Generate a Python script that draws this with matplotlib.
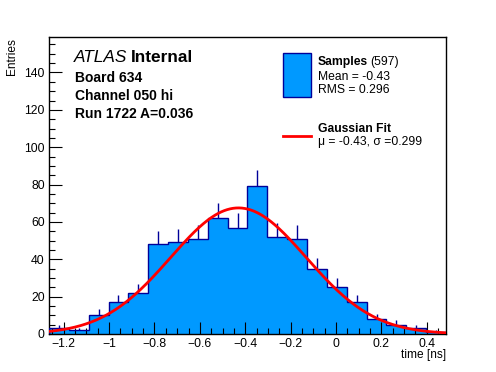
import numpy as np
import matplotlib
matplotlib.use("Agg")
import matplotlib.pyplot as plt
from matplotlib.patches import Rectangle
from matplotlib.lines import Line2D
from matplotlib.ticker import MultipleLocator, FuncFormatter

plt.rcParams['font.family'] = ['Liberation Sans', 'DejaVu Sans']

# ---- data ----
x_low = -1.265
bin_width = 0.0875
counts = [3, 2, 10, 17, 22, 48, 49, 51, 62, 57, 79, 52, 51, 35, 25, 17, 8, 5, 3, 1]
fit_const = 67.5
fit_mean = -0.43
fit_sigma = 0.299
n_entries = 597
mean_txt = "-0.43"
rms_txt = "0.296"
header_lines = ["Board 634", "Channel 050 hi", "Run 1722 A=0.036"]

W, H = 496, 372
fig = plt.figure(figsize=(W / 100, H / 100), dpi=100)
L, R, T, B = 49, 446, 37, 334
ax = fig.add_axes([L / W, (H - B) / H, (R - L) / W, (B - T) / H])

edges = x_low + bin_width * np.arange(len(counts) + 1)
counts = np.array(counts, dtype=float)
centers = 0.5 * (edges[:-1] + edges[1:])

fill_c = '#0099ff'
edge_c = '#000099'

ax.stairs(counts, edges, fill=True, color=fill_c, zorder=1)
ax.vlines(centers, counts, counts + np.sqrt(counts), color=edge_c, lw=1.0, zorder=2)
ax.stairs(counts, edges, fill=False, color=edge_c, lw=1.0, zorder=3)

xs = np.linspace(edges[0], edges[-1], 400)
ys = fit_const * np.exp(-0.5 * ((xs - fit_mean) / fit_sigma) ** 2)
ax.plot(xs, ys, color='#ff0000', lw=2.0, zorder=4)

ax.set_xlim(edges[0], edges[-1])
ax.set_ylim(0, 159)

ax.xaxis.set_major_locator(MultipleLocator(0.2))
ax.xaxis.set_minor_locator(MultipleLocator(0.05))
ax.yaxis.set_major_locator(MultipleLocator(20))
ax.yaxis.set_minor_locator(MultipleLocator(5))

def fmt_x(v, p):
    if abs(v) < 1e-9:
        return "0"
    s = ("%.1f" % v).rstrip('0').rstrip('.')
    return s.replace('-', '\u2212')

ax.xaxis.set_major_formatter(FuncFormatter(fmt_x))
ax.yaxis.set_major_formatter(FuncFormatter(lambda v, p: "%d" % v))

ax.tick_params(axis='both', which='both', direction='in', top=False, right=False,
               labelsize=8.8, colors='black')
ax.tick_params(axis='both', which='major', length=9, width=0.8)
ax.tick_params(axis='both', which='minor', length=4.5, width=0.8)
ax.tick_params(axis='x', pad=3)
ax.tick_params(axis='y', pad=3)
for s in ax.spines.values():
    s.set_linewidth(1.0)

def ftxt(x, y, s, **kw):
    fig.text(x / W, 1 - y / H, s, **kw)

ftxt(446, 355, "time [ns]", ha='right', va='center', fontsize=8.6)
ftxt(12, 38, "Entries", ha='center', va='top', rotation=90, fontsize=8.6)

# ATLAS Internal
t1 = fig.text(74 / W, 1 - 58 / H, "ATLAS", fontsize=12.4, style='italic', va='center', ha='left')
fig.canvas.draw()
bb = t1.get_window_extent()
fig.text((bb.x1 + 4) / W, 1 - 58 / H, "Internal", fontsize=12.4, weight='bold', va='center', ha='left')

for i, line in enumerate(header_lines):
    ftxt(75, 77.5 + 18.2 * i, line, fontsize=10, weight='bold', va='center', ha='left')

# legend
fig.patches.append(Rectangle((283 / W, 1 - 97 / H), 28 / W, 44 / H, transform=fig.transFigure,
                             facecolor=fill_c, edgecolor=edge_c, lw=1.0))
t2 = fig.text(318 / W, 1 - 62 / H, "Samples", fontsize=8.7, weight='bold', va='center', ha='left')
fig.canvas.draw()
bb = t2.get_window_extent()
fig.text((bb.x1 + 2) / W, 1 - 62 / H, "(%d)" % n_entries, fontsize=8.7, va='center', ha='left')
ftxt(318, 77.5, "Mean = " + mean_txt, fontsize=8.7, va='center', ha='left')
ftxt(318, 90, "RMS = " + rms_txt, fontsize=8.7, va='center', ha='left')

fig.lines.append(Line2D([283 / W, 311 / W], [1 - 136 / H, 1 - 136 / H], transform=fig.transFigure,
                        color='#ff0000', lw=2.0))
ftxt(318, 129, "Gaussian Fit", fontsize=8.7, weight='bold', va='center', ha='left')
ftxt(318, 141.5, "\u03bc = %.2f, \u03c3 =%.3f" % (fit_mean, fit_sigma), fontsize=8.7, va='center', ha='left')

fig.savefig("out.png", dpi=100)
